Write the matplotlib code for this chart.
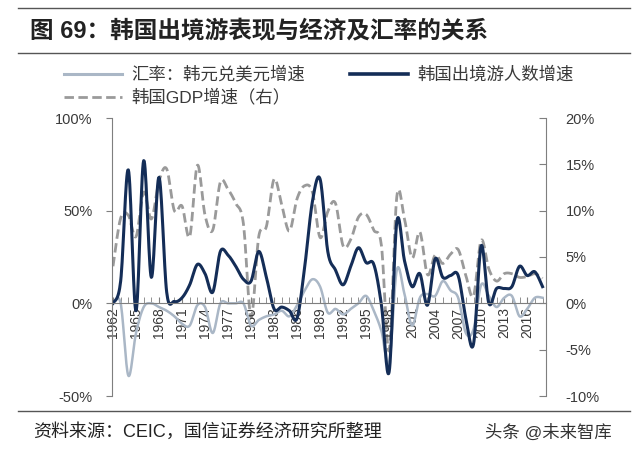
import numpy as np
import matplotlib
matplotlib.use("Agg")
import matplotlib.pyplot as plt
from matplotlib.lines import Line2D

plt.rcParams['font.family'] = ['Liberation Sans', 'Noto Sans CJK SC', 'DejaVu Sans']
plt.rcParams['axes.unicode_minus'] = False

years = list(range(1962, 2019))
outbound = [0, 12, 72, -4, 77, 14, 68, 6, 1, 3,
            10, 21, 16, 6, 28, 26, 20, 13, 12, 28,
            14, -3, -2, -4, -8, 20, 55, 67, 28, 18,
            10, 20, 30, 22, 21, -1, -37, 44, 23, 9,
            16, -1, 24, 14, 15, 15, -8, -22, 31, 0,
            8, 8, 9, 20, 15, 17, 9]
fx_rate = [0, 0, -39, -16, -2, 0, -2, -4, -7, -11,
           -12, -1, -2, -16, 0, 0, 0, 0, -12, -9,
           -7, -6, -4, -7, -1, 7, 13, 9, -5, -3,
           -6, -3, 0, 4, -4, -15, -32, 18, 5, -12,
           3, 5, 4, 12, 7, 3, -16, -14, 10, 4,
           -2, 3, 4, -7, -3, 3, 3]
gdp = [4.0, 9.2, 9.5, 7.2, 12.0, 9.1, 13.2, 14.5, 10.0, 10.5,
       7.2, 14.9, 9.5, 7.9, 13.1, 12.3, 10.8, 8.6, -1.5, 7.2,
       8.3, 13.4, 10.6, 7.8, 11.3, 12.7, 12.0, 7.1, 9.9, 10.8,
       6.2, 6.9, 9.3, 9.6, 7.9, 6.2, -5.1, 11.5, 9.1, 4.9,
       7.7, 3.1, 5.2, 4.3, 5.3, 5.8, 3.0, 0.8, 6.8, 3.7,
       2.4, 3.2, 3.2, 2.8, 2.9, 3.2, 2.7]
tick_years = list(range(1962, 2017, 3))
left_ticks = [-50, 0, 50, 100]
right_ticks = [-10, -5, 0, 5, 10, 15, 20]

title = "图 69：韩国出境游表现与经济及汇率的关系"
leg_fx = "汇率：韩元兑美元增速"
leg_out = "韩国出境游人数增速"
leg_gdp = "韩国GDP增速（右）"
source = "资料来源：CEIC，国信证券经济研究所整理"
mark = "头条 @未来智库"

C_NAVY = '#142d57'
C_FX = '#aab7c6'
C_GDP = '#9a9a9a'
C_AX = '#7f7f7f'
C_TXT = '#3a3a3a'


def smooth(xs, ys, n=16):
    """Catmull-Rom drawing of a line through the given points (like a smoothed Excel line)."""
    x = np.asarray(xs, float)
    y = np.asarray(ys, float)
    P = np.column_stack([x, y])
    out = []
    for i in range(len(P) - 1):
        p0 = P[i - 1] if i > 0 else P[i]
        p1 = P[i]
        p2 = P[i + 1]
        p3 = P[i + 2] if i + 2 < len(P) else P[i + 1]
        t = np.linspace(0, 1, n, endpoint=False)[:, None]
        seg = 0.5 * ((2 * p1) + (-p0 + p2) * t + (2 * p0 - 5 * p1 + 4 * p2 - p3) * t ** 2
                     + (-p0 + 3 * p1 - 3 * p2 + p3) * t ** 3)
        out.append(seg)
    out.append(P[-1:])
    S = np.vstack(out)
    return S[:, 0], S[:, 1]


W, H = 642, 455
fig = plt.figure(figsize=(W / 100, H / 100), dpi=100)

ax = fig.add_axes([112 / W, 1 - 396 / H, (546 - 112) / W, (396 - 118) / H])
ax2 = ax.twinx()

ax.set_ylim(-50, 100)
ax2.set_ylim(-10, 20)
ax.set_xlim(1961.87, 2018.45)

ax.set_zorder(ax2.get_zorder() + 1)
ax.patch.set_visible(False)

gx, gy = smooth(years, gdp)
ax2.plot(gx, gy, color=C_GDP, lw=2.0, ls=(0, (3.4, 1.6)))
fx_x, fx_y = smooth(years, fx_rate)
ax.plot(fx_x, fx_y, color=C_FX, lw=1.8)
ox, oy = smooth(years, outbound)
ax.plot(ox, oy, color=C_NAVY, lw=2.2)

for a in (ax, ax2):
    a.spines['top'].set_visible(False)
ax.spines['right'].set_visible(False)
ax2.spines['left'].set_visible(False)
ax2.spines['bottom'].set_visible(False)
ax.spines['left'].set_color(C_AX)
ax2.spines['right'].set_color(C_AX)
ax.spines['bottom'].set_position(('data', 0))
ax.spines['bottom'].set_color(C_AX)

ax.set_xticks(tick_years)
ax.set_xticks(years, minor=True)
ax.set_xticklabels([str(y) for y in tick_years], rotation=90, fontsize=10, color=C_TXT)
ax.tick_params(axis='x', which='both', direction='in', length=4, color=C_AX, pad=3)

ax.set_yticks(left_ticks)
ax.set_yticklabels([f"{v}%" for v in left_ticks], fontsize=10.5, color=C_TXT)
ax.tick_params(axis='y', direction='out', length=4, color=C_AX, pad=10)
ax2.set_yticks(right_ticks)
ax2.set_yticklabels([f"{v}%" for v in right_ticks], fontsize=10.5, color=C_TXT)
ax2.tick_params(axis='y', direction='in', length=5, color=C_AX, pad=14)

for yy in (8, 53, 411):
    fig.add_artist(Line2D([18 / W, 630 / W], [1 - yy / H, 1 - yy / H], color='#555555', lw=1.0))

fig.text(30 / W, 1 - 31 / H, title, fontsize=17, fontweight='bold', color='#222222', va='center')


def leg(x0, x1, y, color, lw, ls, label):
    fig.add_artist(Line2D([x0 / W, x1 / W], [1 - y / H, 1 - y / H], color=color, lw=lw, ls=ls))
    fig.text((x1 + 9) / W, 1 - y / H, label, fontsize=12.5, color=C_TXT, va='center')


leg(64, 122, 74, C_FX, 2.2, '-', leg_fx)
leg(350, 408, 74, C_NAVY, 2.6, '-', leg_out)
leg(64, 122, 97, C_GDP, 2.0, (0, (3.4, 1.6)), leg_gdp)

fig.text(33 / W, 1 - 432 / H, source, fontsize=13, color='#222222', va='center')
fig.text(612 / W, 1 - 432 / H, mark, fontsize=12.5, color='#333333', va='center', ha='right')

fig.savefig('out.png', dpi=100)
